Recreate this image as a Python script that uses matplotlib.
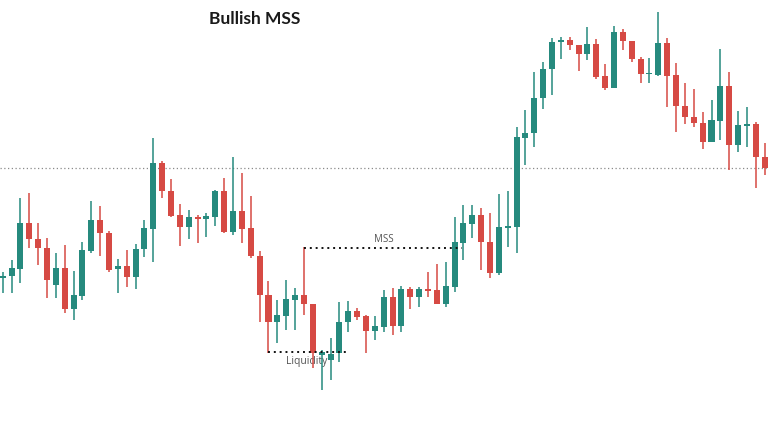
import numpy as np
import matplotlib
matplotlib.use("Agg")
import matplotlib.pyplot as plt

# OHLC (arbitrary price units)
opens = [147.0, 149.0, 156.0, 202.3, 185.7, 177.3, 140.0, 156.7, 116.0, 129.0,
         174.0, 205.0, 192.3, 155.7, 159.0, 148.3, 175.7, 196.3, 261.7, 234.3,
         210.0, 198.3, 207.7, 205.7, 208.3, 234.3, 193.3, 214.0, 196.7, 169.3,
         130.0, 102.7, 109.3, 125.0, 130.0, 121.0, 70.0, 65.0, 71.7, 102.7,
         114.3, 109.0, 94.0, 98.3, 128.3, 99.3, 135.7, 128.3, 135.5, 135.0,
         121.0, 138.3, 181.7, 201.0, 210.0, 183.3, 152.3, 197.5, 198.3, 287.3,
         291.7, 326.7, 355.7, 383.5, 385.5, 380.0, 370.7, 380.7, 349.0, 337.3,
         393.3, 384.3, 366.0, 350.7, 350.0, 381.7, 350.0, 319.3, 308.3, 302.3,
         283.3, 304.3, 339.0, 280.0, 299.5, 301.0, 268.3]
highs = [153.3, 165.0, 226.7, 231.7, 202.3, 186.7, 171.7, 180.0, 154.3, 183.3,
         224.3, 219.0, 194.0, 166.0, 175.0, 181.0, 205.0, 286.7, 264.3, 245.7,
         221.0, 215.0, 210.0, 211.7, 235.0, 246.7, 268.3, 252.3, 229.0, 174.3,
         144.3, 125.0, 145.0, 136.7, 178.3, 121.0, 75.0, 87.3, 123.3, 124.3,
         117.0, 110.0, 109.0, 135.0, 136.7, 139.0, 138.3, 138.3, 153.3, 161.0,
         163.3, 207.7, 220.0, 220.0, 216.7, 212.3, 230.7, 234.3, 298.3, 315.0,
         353.3, 362.7, 386.7, 388.3, 388.3, 380.0, 397.7, 385.7, 360.7, 399.3,
         396.0, 384.3, 368.3, 366.7, 412.7, 386.7, 361.7, 341.7, 335.7, 313.3,
         325.0, 375.7, 352.7, 314.3, 318.3, 303.3, 281.7]
lows = [132.3, 131.7, 142.3, 177.3, 160.0, 126.7, 126.7, 111.7, 105.0, 125.0,
        172.3, 169.0, 153.0, 131.7, 138.3, 136.0, 168.3, 163.3, 227.3, 208.3,
        179.0, 186.0, 182.3, 187.7, 199.3, 191.7, 190.0, 181.7, 166.7, 102.7,
        72.3, 81.7, 95.0, 95.0, 110.0, 56.7, 35.0, 45.0, 63.3, 92.7,
        105.0, 71.7, 85.0, 92.7, 90.0, 92.7, 115.7, 118.3, 128.3, 121.0,
        117.7, 133.3, 165.0, 186.7, 155.0, 146.7, 150.0, 177.7, 172.3, 260.0,
        277.7, 315.7, 330.0, 365.7, 375.0, 354.0, 365.0, 346.0, 335.0, 336.7,
        375.0, 362.7, 341.7, 341.7, 349.3, 318.3, 293.3, 301.0, 297.7, 275.7,
        283.3, 285.0, 255.0, 273.3, 277.7, 236.7, 250.0]
closes = [149.0, 156.7, 202.3, 185.7, 177.3, 145.0, 156.7, 116.0, 130.0, 175.0,
          205.0, 192.3, 155.0, 159.0, 148.3, 176.0, 197.3, 261.7, 234.0, 209.3,
          198.3, 207.7, 205.7, 209.0, 234.3, 193.3, 214.0, 196.0, 169.0, 130.0,
          102.7, 110.0, 125.7, 130.0, 120.7, 72.3, 73.3, 71.0, 103.3, 114.3,
          108.3, 94.0, 99.0, 128.3, 99.3, 135.7, 128.3, 135.7, 134.5, 121.0,
          139.0, 182.7, 201.7, 210.0, 183.3, 152.3, 197.7, 199.0, 287.7, 292.3,
          326.7, 355.7, 383.3, 384.8, 380.0, 370.7, 380.7, 348.3, 337.3, 393.3,
          384.3, 366.0, 350.7, 351.0, 381.7, 349.3, 319.3, 308.3, 301.7, 283.3,
          305.0, 339.0, 280.0, 300.0, 300.5, 268.3, 256.7]

level_price = 256.7          # grey dotted level
mss_price = 177.3            # MSS line (swing high of candle 34)
mss_span = (34, 51.8)
liq_price = 73.3             # liquidity line
liq_span = (30.0, 38.8)

up_col = '#268a7e'
down_col = '#d64a44'

o = np.array(opens)
h = np.array(highs)
l = np.array(lows)
c = np.array(closes)
idx = np.arange(len(o))
cols = [up_col if cc >= oo else down_col for oo, cc in zip(o, c)]

fig = plt.figure(figsize=(7.68, 4.25), dpi=100)
ax = fig.add_axes([0, 0, 1, 1])
ax.axis('off')

# pixel layout of the reference: candle i at x = 2.7 + 8.86*i
step = 8.86
ax.set_xlim(-2.7 / step, (768 - 2.7) / step)
ax.set_ylim(0, 425)

ax.axhline(level_price, color='#8a8a8a', lw=0.9, ls=(0, (1, 2)), zorder=1)

# wicks + bodies
ax.vlines(idx, l, h, colors=cols, lw=1.1, zorder=3)
bottom = np.minimum(o, c)
height = np.maximum(np.abs(c - o), 1.6)
ax.bar(idx, height, bottom=bottom, width=0.68, color=cols, lw=0, zorder=4)

# MSS / liquidity markers
ax.plot(mss_span, [mss_price, mss_price], color='#111111', lw=1.4,
        ls=(0, (1, 2)), zorder=5)
ax.text(42.96, 186, 'MSS', ha='center', va='center', fontsize=7,
        color='#555555', family='Open Sans', zorder=2)
ax.plot(liq_span, [liq_price, liq_price], color='#111111', lw=1.4,
        ls=(0, (1, 2)), zorder=5)
ax.text(34.3, 63.3, 'Liquidity', ha='center', va='center', fontsize=7.5,
        color='#555555', family='Open Sans', zorder=2)

fig.text(255 / 768, 1 - 19 / 425, 'Bullish MSS', ha='center', va='center',
         fontsize=12.5, fontweight='bold', family='Lato', color='#1a1a1a')

fig.savefig('out.png', dpi=100, facecolor='white')
